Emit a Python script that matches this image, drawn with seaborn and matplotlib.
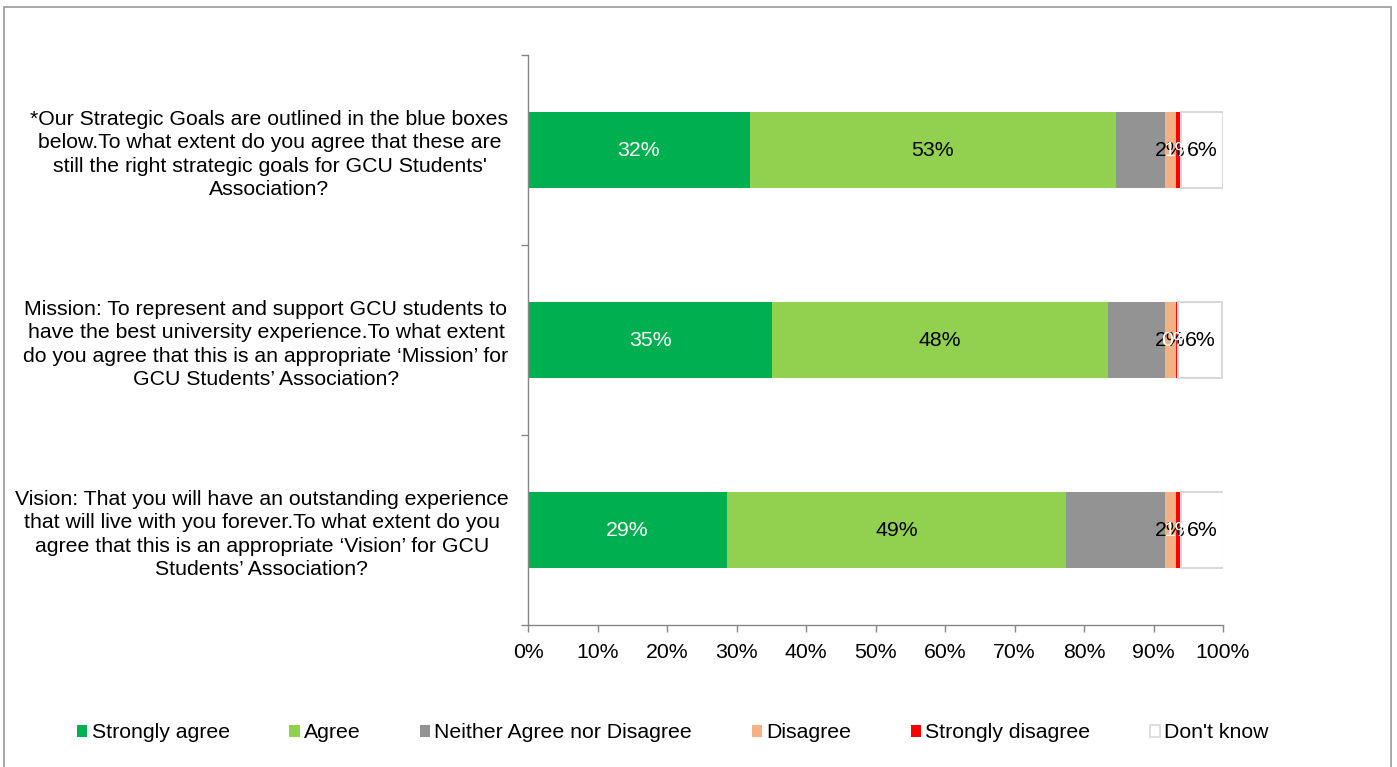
import matplotlib
matplotlib.use("Agg")
import matplotlib.pyplot as plt
from matplotlib.patches import Patch, Rectangle
import numpy as np
import pandas as pd
import seaborn as sns

# Survey questions (top to bottom)
questions = [
    "*Our Strategic Goals are outlined in the blue boxes\n"
    "below.To what extent do you agree that these are\n"
    "still the right strategic goals for GCU Students'\n"
    "Association?",
    "Mission: To represent and support GCU students to\n"
    "have the best university experience.To what extent\n"
    "do you agree that this is an appropriate \u2018Mission\u2019 for\n"
    "GCU Students\u2019 Association?",
    "Vision: That you will have an outstanding experience\n"
    "that will live with you forever.To what extent do you\n"
    "agree that this is an appropriate \u2018Vision\u2019 for GCU\n"
    "Students\u2019 Association?",
]

responses = ["Strongly agree", "Agree", "Neither Agree nor Disagree",
             "Disagree", "Strongly disagree", "Don't know"]

# Share of respondents (%) per answer, one value per question
strongly_agree = [31.9, 35.1, 28.6]
agree = [52.7, 48.3, 48.8]
neither = [7.0, 8.2, 14.2]
disagree = [1.7, 1.6, 1.7]
strongly_disagree = [0.6, 0.3, 0.6]
dont_know = [6.1, 6.4, 6.2]

x_ticks = [0, 10, 20, 30, 40, 50, 60, 70, 80, 90, 100]
x_tick_labels = ["0%", "10%", "20%", "30%", "40%", "50%",
                 "60%", "70%", "80%", "90%", "100%"]

series = [strongly_agree, agree, neither, disagree, strongly_disagree, dont_know]
colors = ["#00B050", "#92D050", "#939393", "#F4B183", "#FF0000", "#FFFFFF"]
label_colors = ["white", "black", None, "black", "white", "black"]

sns.set_theme(style="white")
plt.rcParams["font.family"] = ["Liberation Sans", "DejaVu Sans"]
plt.rcParams["text.color"] = "black"
plt.rcParams["xtick.labelcolor"] = "black"
plt.rcParams["ytick.labelcolor"] = "black"
axis_grey = "#868686"
FS = 15.3

W, H = 1397, 767
fig = plt.figure(figsize=(W / 100, H / 100), dpi=100)
ax = fig.add_axes([528 / W, 1 - 625 / H, (1223 - 528) / W, (625 - 55) / H])

left = np.zeros(len(questions))
for name, vals, col, lcol in zip(responses, series, colors, label_colors):
    df = pd.DataFrame({"question": questions, "share": vals})
    is_dk = name == "Don't know"
    sns.barplot(data=df, x="share", y="question", orient="h", color=col,
                saturation=1, width=0.4, left=left.copy(), ax=ax,
                edgecolor="#D9D9D9" if is_dk else col,
                linewidth=1.5 if is_dk else 0, errorbar=None)
    container = ax.containers[-1]
    if lcol is not None:
        ax.bar_label(container, labels=[f"{int(v + 0.5)}%" for v in vals],
                     label_type="center", color=lcol, fontsize=FS)
    left += np.array(vals)

ax.set_xlim(0, 100)
ax.set_xticks(x_ticks)
ax.set_xticklabels(x_tick_labels, fontsize=FS)
ax.set_ylim(len(questions) - 0.5, -0.5)
ax.set_yticks(np.arange(-0.5, len(questions)), minor=True)
ax.set_xlabel("")
ax.set_ylabel("")

for lbl in ax.get_yticklabels():
    lbl.set_fontsize(FS)
    lbl.set_multialignment("center")
    lbl.set_linespacing(1.3)

ax.tick_params(axis="y", which="major", length=0, pad=14)
ax.tick_params(axis="y", which="minor", length=5, width=1, color=axis_grey,
               direction="out", left=True)
ax.tick_params(axis="x", which="major", length=5, width=1, color=axis_grey,
               direction="out", bottom=True, pad=8)
for side in ("top", "right"):
    ax.spines[side].set_visible(False)
for side in ("left", "bottom"):
    ax.spines[side].set_color(axis_grey)
    ax.spines[side].set_linewidth(1)
ax.grid(False)

handles = [Patch(facecolor=c, edgecolor="#D9D9D9" if r == "Don't know" else c,
                 linewidth=1.2 if r == "Don't know" else 0)
           for r, c in zip(responses, colors)]
fig.legend(handles, responses, loc="center", bbox_to_anchor=(673 / W, 1 - 733 / H),
           ncol=6, frameon=False, handlelength=0.48, handleheight=0.48,
           handletextpad=0.2, columnspacing=2.8, fontsize=FS)

# Outer chart frame
fig.patches.append(Rectangle((4 / W, -0.02), (1391 - 4) / W, 1 - 7 / H + 0.02,
                             transform=fig.transFigure, fill=False,
                             edgecolor="#A0A0A0", linewidth=1.3, zorder=0))

fig.savefig("out.png", dpi=100)
